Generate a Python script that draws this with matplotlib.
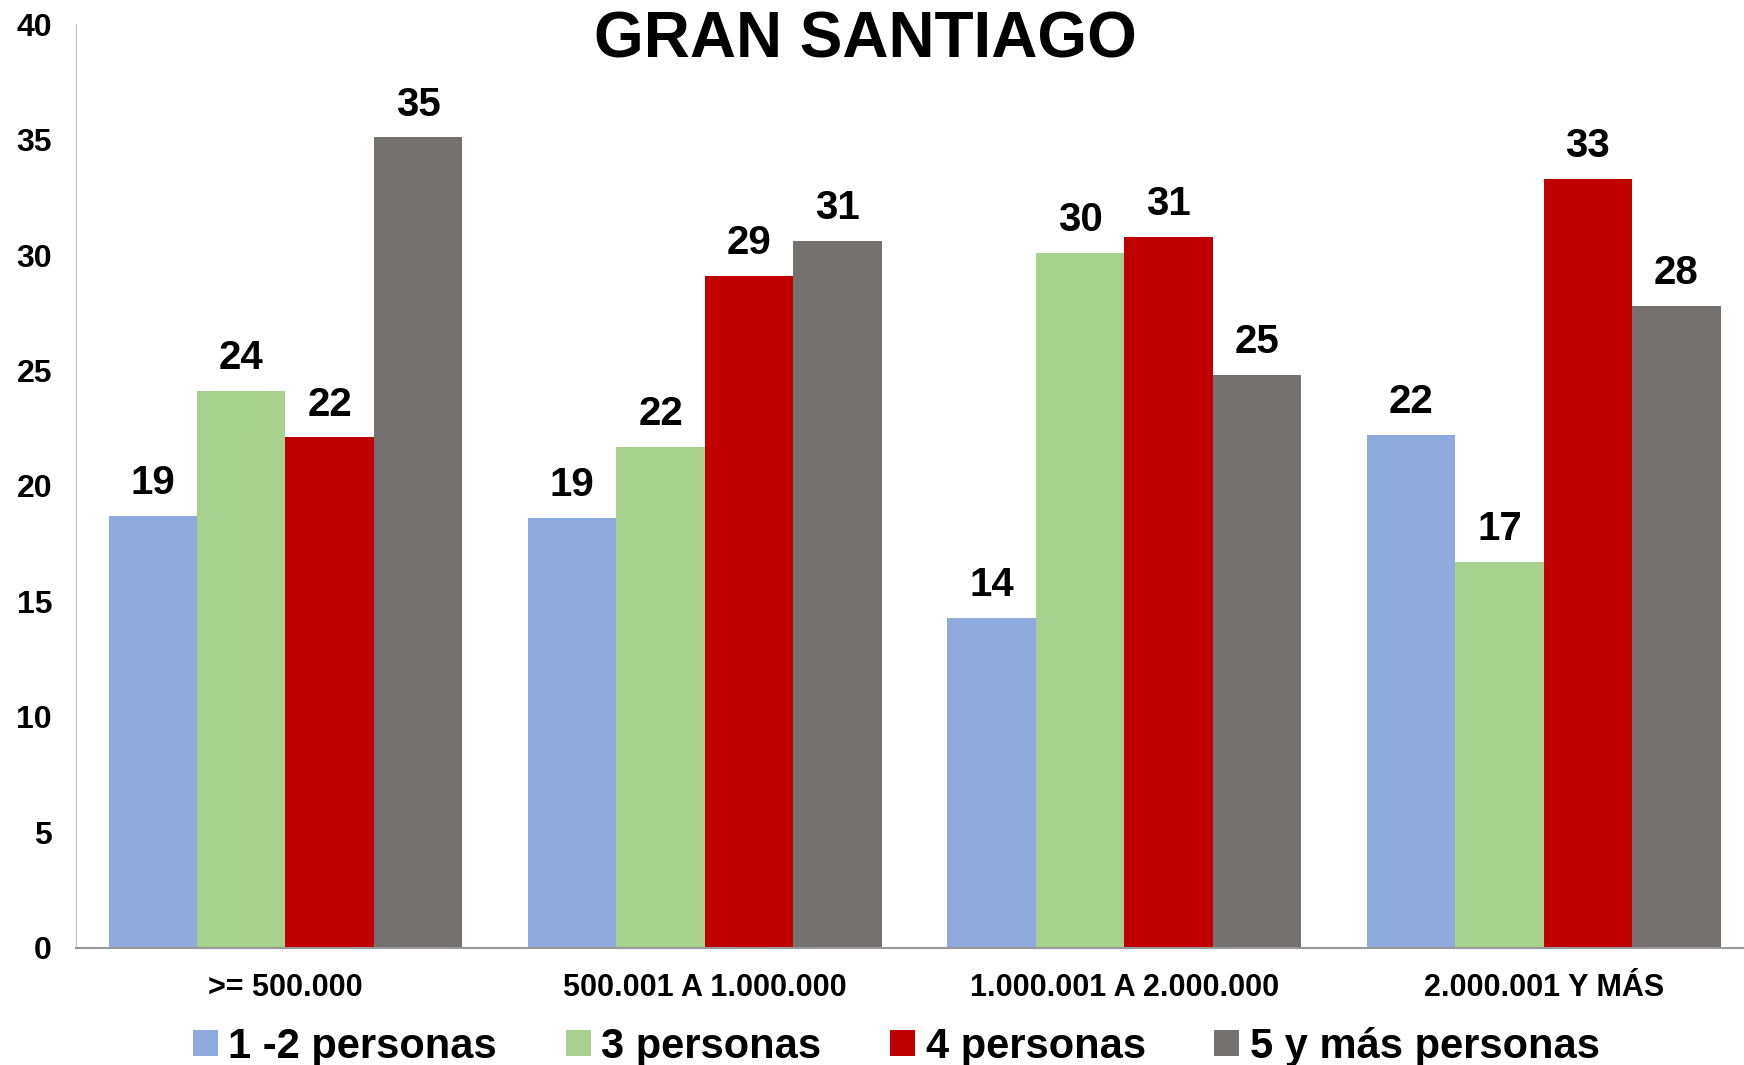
import matplotlib
matplotlib.use("Agg")
import matplotlib.pyplot as plt
import numpy as np
from matplotlib.patches import Patch

categories = [">= 500.000", "500.001 A 1.000.000", "1.000.001 A 2.000.000", "2.000.001 Y MÁS"]
series_names = ["1 -2 personas", "3 personas", "4 personas", "5 y más personas"]
v_1_2 = [18.7, 18.6, 14.3, 22.2]
v_3 = [24.1, 21.7, 30.1, 16.7]
v_4 = [22.1, 29.1, 30.8, 33.3]
v_5 = [35.1, 30.6, 24.8, 27.8]
title = "GRAN SANTIAGO"
yticks = [0, 5, 10, 15, 20, 25, 30, 35, 40]

colors = ["#8FAADC", "#A9D18E", "#C00000", "#767171"]
narrow = ["Liberation Sans Narrow", "Liberation Sans", "DejaVu Sans"]
wide = ["Liberation Sans", "DejaVu Sans"]

fig = plt.figure(figsize=(17.44, 10.65), dpi=100)
ax = fig.add_axes([0.0434, 0.1102, 0.962, 0.867])

series = [v_1_2, v_3, v_4, v_5]
x = np.arange(len(categories))
w = 0.2108
for i, (vals, c) in enumerate(zip(series, colors)):
    pos = x + (i - 1.5) * w
    bars = ax.bar(pos, vals, width=w, color=c, edgecolor="none", zorder=2)
    for b, v in zip(bars, vals):
        ax.annotate(f"{v:.0f}", (b.get_x() + b.get_width() / 2, v),
                    xytext=(0, 10), textcoords="offset points",
                    ha="center", va="bottom", fontsize=29, fontweight="bold",
                    family=wide, color="black")

ax.set_xlim(-0.5, 3.5)
ax.set_ylim(0, 40)
ax.set_yticks(yticks)
ax.set_yticklabels([str(t) for t in yticks], fontsize=23, fontweight="bold", family=narrow)
ax.set_xticks(x)
ax.set_xticklabels(categories, fontsize=22, fontweight="bold", family=narrow)
ax.tick_params(axis="y", length=0, pad=17)
ax.tick_params(axis="x", length=0, pad=18)
for s in ["top", "right"]:
    ax.spines[s].set_visible(False)
ax.spines["left"].set_color("#BFBFBF")
ax.spines["bottom"].set_color("#999999")
ax.spines["bottom"].set_linewidth(1.5)

fig.text(0.496, 0.962, title, ha="center", va="center", fontsize=46,
         fontweight="bold", family=wide)

handles = [Patch(facecolor=c, edgecolor="none") for c in colors]
leg = fig.legend(handles, series_names, loc="center", bbox_to_anchor=(0.514, 0.017),
                 ncol=4, frameon=False, handlelength=0.6, handleheight=0.6,
                 handletextpad=0.25, columnspacing=1.65,
                 prop={"family": narrow, "weight": "bold", "size": 30})

fig.savefig("out.png", dpi=100)
